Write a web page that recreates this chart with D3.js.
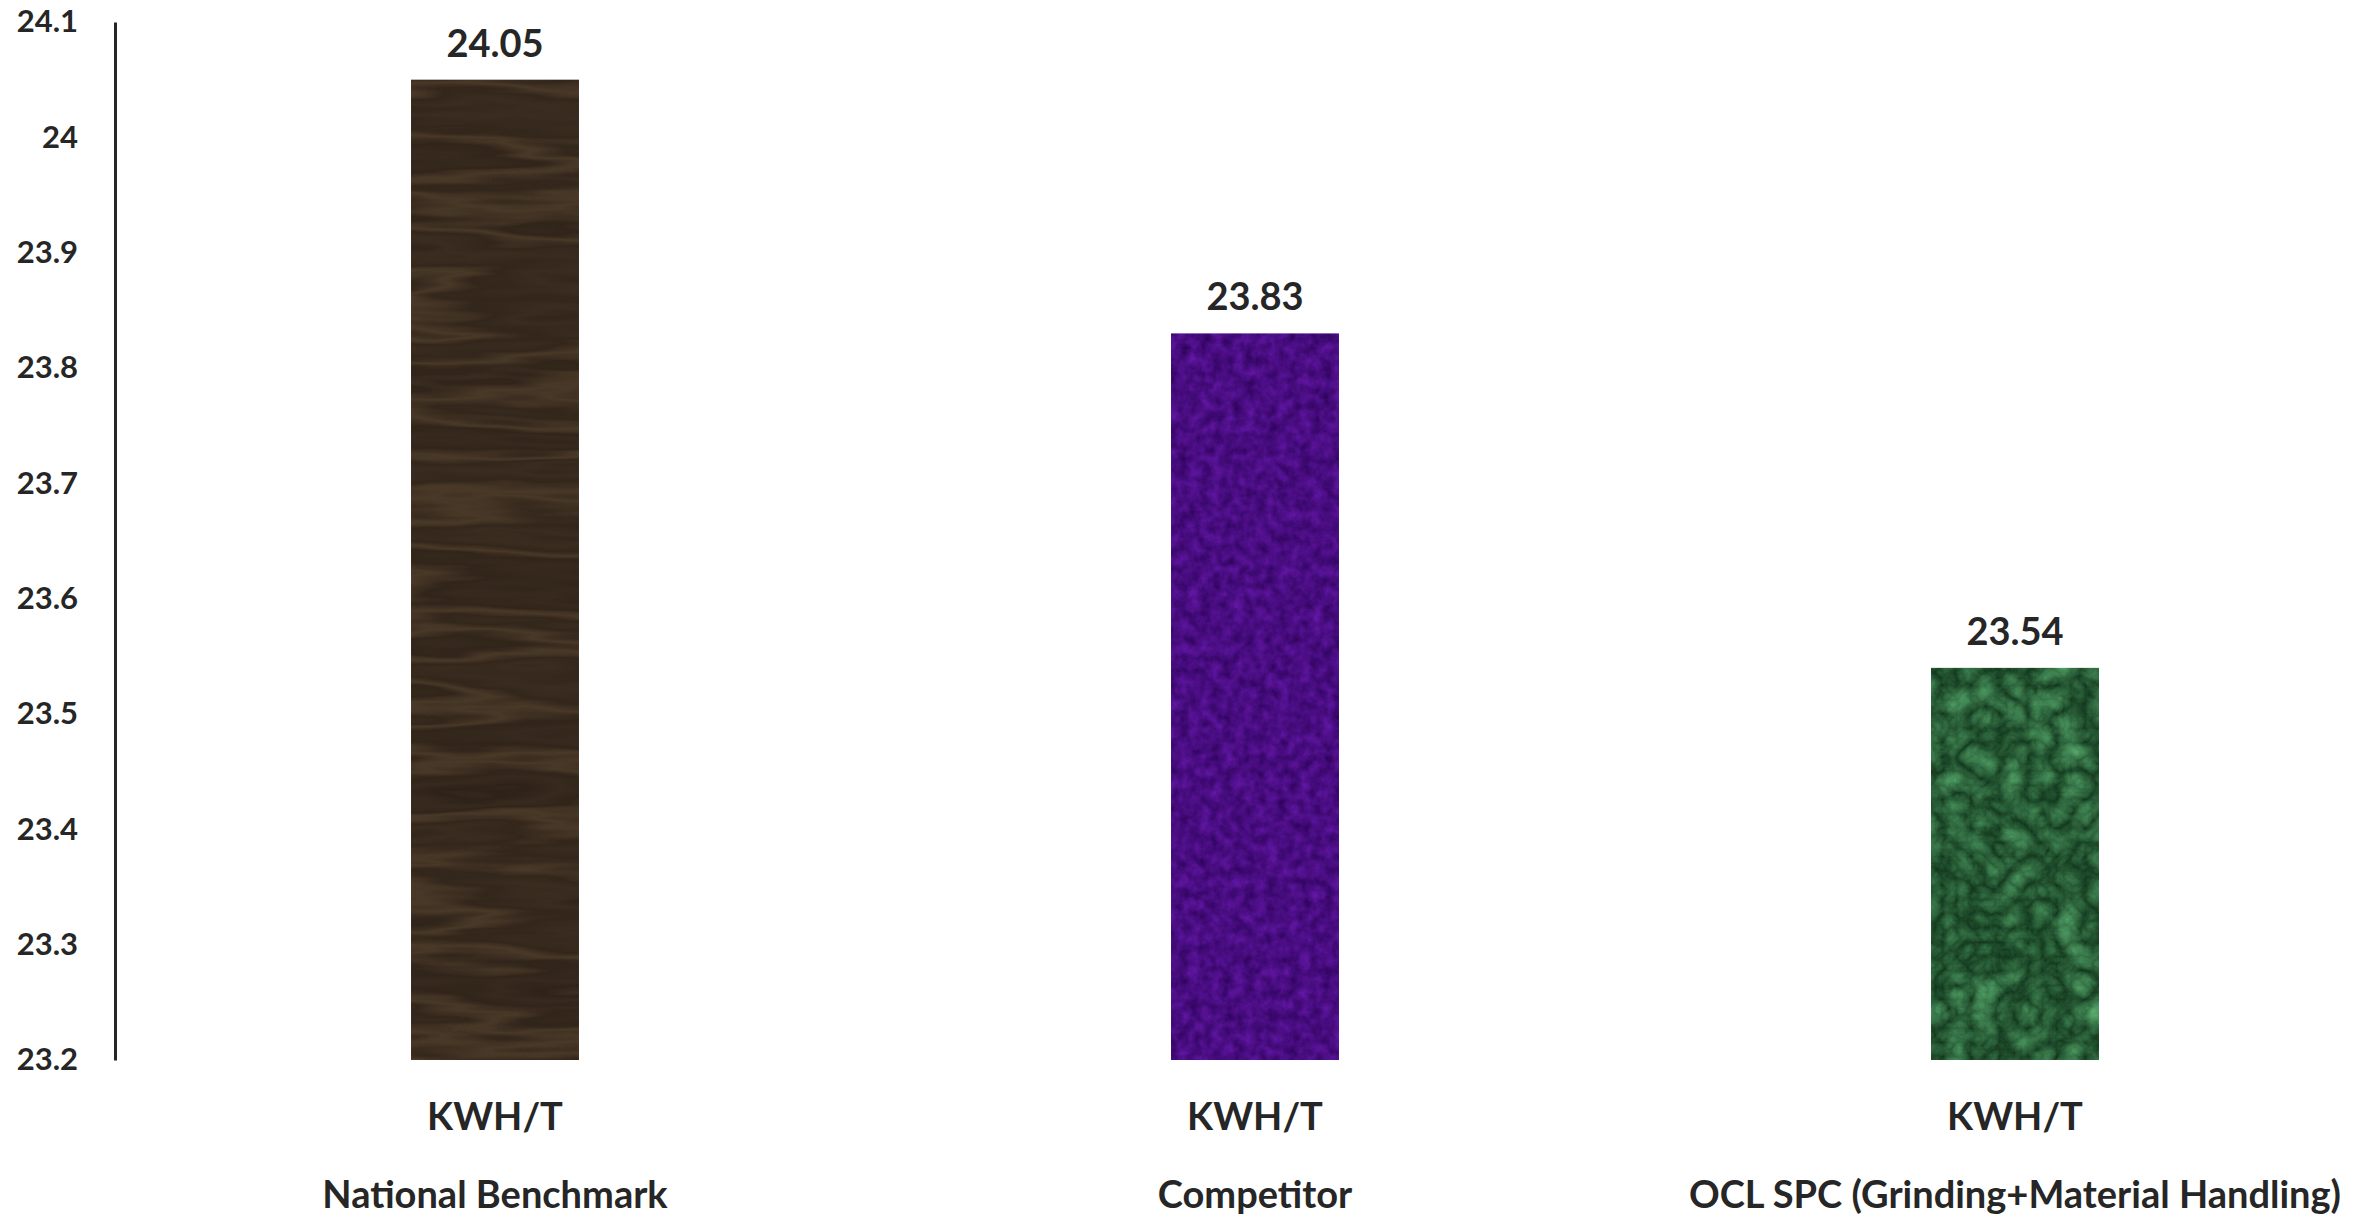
<!DOCTYPE html>
<html>
<head>
<meta charset="utf-8">
<script src="https://cdn.jsdelivr.net/npm/d3@7"></script>
<style>
  html, body { margin: 0; padding: 0; background: #ffffff; }
  svg { display: block; }
  text { font-family: Lato, "Open Sans", sans-serif; font-weight: 700; fill: #262626; }
</style>
</head>
<body>
<script>
// Specific power consumption, kWh per tonne
const categories = ["National Benchmark", "Competitor", "OCL SPC (Grinding+Material Handling)"];
const unitLabels = ["KWH/T", "KWH/T", "KWH/T"];
const values = [24.05, 23.83, 23.54];
const yTicks = [23.2, 23.3, 23.4, 23.5, 23.6, 23.7, 23.8, 23.9, 24.0, 24.1];
const textures = ["wood", "fabric", "marble"];

const W = 2379, H = 1217;
const svg = d3.select("body").append("svg").attr("width", W).attr("height", H);

// Texture fills built from SVG noise filters
const defs = svg.append("defs");
function textureFilter(id, type, freq, octaves, seed, matrix, extra) {
  const f = defs.append("filter").attr("id", id)
    .attr("x", 0).attr("y", 0).attr("width", 1).attr("height", 1)
    .attr("color-interpolation-filters", "sRGB");
  f.append("feTurbulence").attr("type", type).attr("baseFrequency", freq)
    .attr("numOctaves", octaves).attr("seed", seed).attr("result", "noise");
  let src = "noise";
  if (extra) { extra(f); src = "shaped"; }
  f.append("feColorMatrix").attr("in", src).attr("type", "matrix").attr("values", matrix).attr("result", "col");
  f.append("feComposite").attr("in", "col").attr("in2", "SourceGraphic").attr("operator", "in");
}
// dark walnut with broad horizontal grain
textureFilter("wood", "fractalNoise", "0.0025 0.022", 4, 7,
  "0.42 0 0 0 0.12  0.36 0 0 0 0.08  0.24 0 0 0 0.06  0 0 0 0 1",
  f => {
    const ct = f.append("feComponentTransfer").attr("in", "noise").attr("result", "shaped");
    ct.append("feFuncR").attr("type", "table")
      .attr("tableValues", "0.17 0.22 0.15 0.26 0.19 0.4 0.17 0.23 0.15 0.32 0.19");
  });
// purple felt
textureFilter("fabric", "fractalNoise", "0.09", 4, 3,
  "0.25 0 0 0 0.16  0.10 0 0 0 0.0  0.35 0 0 0 0.33  0 0 0 0 1");
// green marble
textureFilter("marble", "turbulence", "0.035", 5, 11,
  "0.30 0 0 0 0.06  0.50 0 0 0 0.20  0.35 0 0 0 0.10  0 0 0 0 1");

const x = d3.scaleBand().domain(categories).range([115, 2395])
  .paddingInner(0.779).paddingOuter(0.779 / 2);
const y = d3.scaleLinear().domain([23.2, 24.1]).range([1060, 22]);

// y axis: line plus labels, no tick marks
const yAxis = svg.append("g").attr("transform", "translate(115,0)")
  .call(d3.axisLeft(y).tickValues(yTicks).tickSize(0).tickPadding(37)
    .tickFormat(d => String(+d.toFixed(1))));
yAxis.select(".domain").attr("stroke", "#262626").attr("stroke-width", 3);
yAxis.selectAll("text").attr("font-size", 31).attr("fill", "#262626")
  .style("font-family", "Lato, sans-serif").style("font-weight", 700);

// bars
svg.append("g").selectAll("rect").data(values).join("rect")
  .attr("x", (d, i) => x(categories[i]))
  .attr("y", d => y(d))
  .attr("width", x.bandwidth())
  .attr("height", d => y(23.2) - y(d))
  .attr("fill", "#444")
  .attr("filter", (d, i) => `url(#${textures[i]})`);

// value labels
svg.append("g").selectAll("text").data(values).join("text")
  .attr("x", (d, i) => x(categories[i]) + x.bandwidth() / 2)
  .attr("y", d => y(d) - 23)
  .attr("text-anchor", "middle").attr("font-size", 38)
  .text(d => d.toFixed(2));

// two-level category labels
const xl = svg.append("g");
xl.selectAll("text.unit").data(unitLabels).join("text").attr("class", "unit")
  .attr("x", (d, i) => x(categories[i]) + x.bandwidth() / 2)
  .attr("y", 1130).attr("text-anchor", "middle").attr("font-size", 38)
  .text(d => d);
xl.selectAll("text.cat").data(categories).join("text").attr("class", "cat")
  .attr("x", d => x(d) + x.bandwidth() / 2)
  .attr("y", 1208).attr("text-anchor", "middle").attr("font-size", 38)
  .text(d => d);
</script>
</body>
</html>
